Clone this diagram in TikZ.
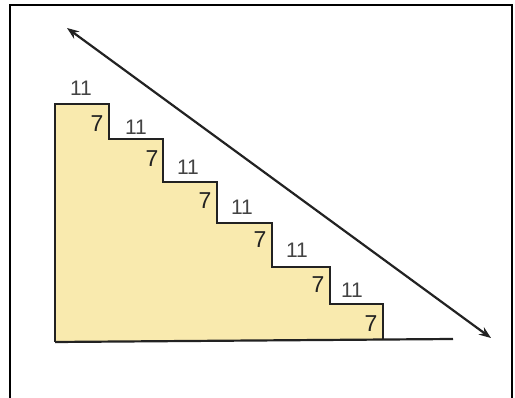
\documentclass[tikz,border=0pt]{standalone}
\usepackage{fontspec}
\setmainfont{Liberation Sans}
\usetikzlibrary{arrows.meta}
\definecolor{stairfill}{HTML}{F9EAAE}
\definecolor{ink}{HTML}{222222}
\tikzset{
  tread/.style={font=\fontsize{21}{21}\selectfont, text=ink!85, inner sep=0pt},
  riser/.style={font=\fontsize{23}{23}\selectfont, text=ink, inner sep=0pt},
  edge/.style={draw=ink, line width=2.2pt},
}
\begin{document}
\begin{tikzpicture}[x=1pt,y=-1pt]
\useasboundingbox (0,0) rectangle (515,398);
\fill[white] (0,0) rectangle (515,398);
\draw[black, line width=2pt] (10,400) -- (10,5) -- (512,5) -- (512,400);
% staircase
\fill[stairfill] (55,104) -- (109,104) -- (109,139) -- (163,139) -- (163,182) -- (217,182) -- (217,223) -- (272,223) -- (272,267) -- (330,267) -- (330,304) -- (383,304) -- (383,340) -- (55,342) -- cycle;
\draw[edge, line join=miter] (55,342) -- (55,104) -- (109,104) -- (109,139) -- (163,139) -- (163,182) -- (217,182) -- (217,223) -- (272,223) -- (272,267) -- (330,267) -- (330,304) -- (383,304) -- (383,340);
\coordinate (bl) at (55,342);
\coordinate (br) at (453,339);
\draw[edge] (bl) -- (br);
% arrow
\coordinate (a1) at (67,28);
\coordinate (a2) at (491,338);
\draw[edge, {Stealth[length=12pt,width=9pt]}-{Stealth[length=12pt,width=9pt]}] (a1) -- (a2);
% labels
\node[tread] (t1) at (81,88) {11};
\node[tread] (t2) at (136,127) {11};
\node[tread] (t3) at (188,167) {11};
\node[tread] (t4) at (242,207) {11};
\node[tread] (t5) at (297,250) {11};
\node[tread] (t6) at (352,290) {11};
\node[riser] (r1) at (97,124) {7};
\node[riser] (r2) at (152,159) {7};
\node[riser] (r3) at (205,201) {7};
\node[riser] (r4) at (260,240) {7};
\node[riser] (r5) at (318,285) {7};
\node[riser] (r6) at (371,324) {7};
\end{tikzpicture}
\end{document}
